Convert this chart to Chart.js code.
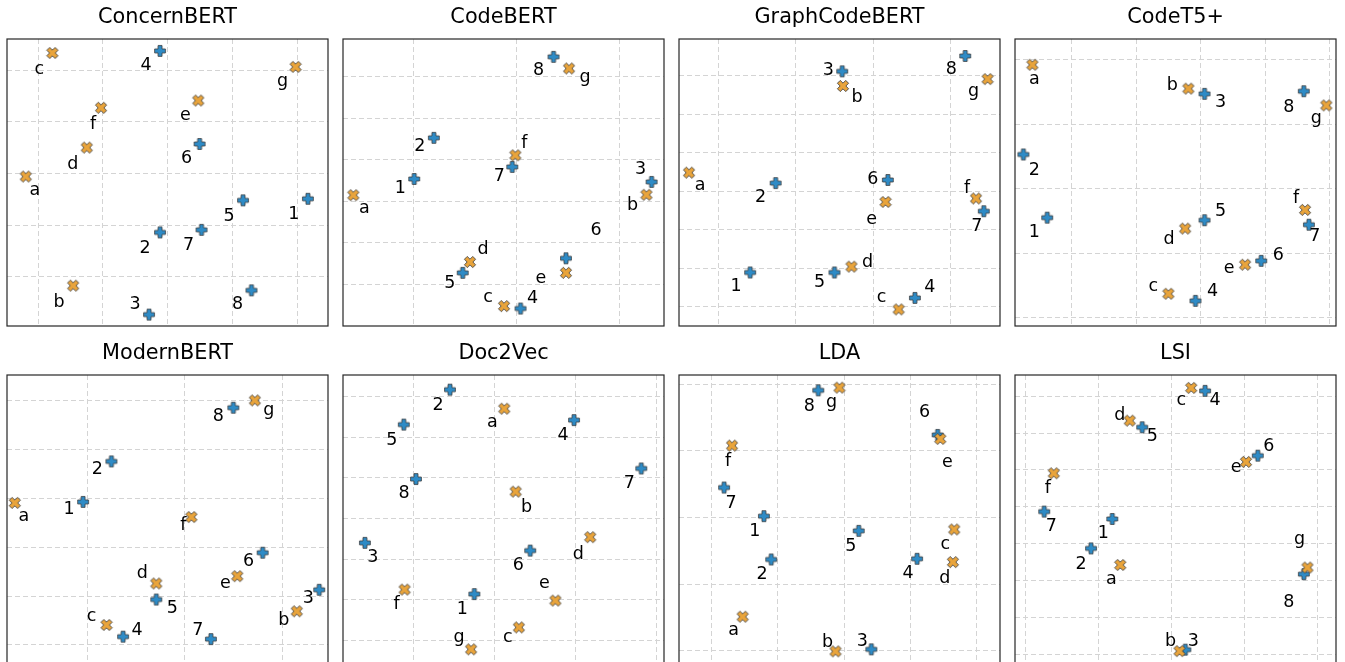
<!DOCTYPE html>
<html>
<head>
<meta charset="utf-8">
<script src="https://cdn.jsdelivr.net/npm/chart.js@4.4.1/dist/chart.umd.min.js"></script>
<style>
  body { margin: 0; background: #fff; width: 1345px; height: 662px; overflow: hidden; position: relative; }
  canvas { position: absolute; }
</style>
</head>
<body>
<script>
// modelos (un panel cada uno)
const modelos = ['ConcernBERT', 'CodeBERT', 'GraphCodeBERT', 'CodeT5+', 'ModernBERT', 'Doc2Vec', 'LDA', 'LSI'];
const etiquetasNum = ['1', '2', '3', '4', '5', '6', '7', '8'];
const etiquetasLetra = ['a', 'b', 'c', 'd', 'e', 'f', 'g'];

// puntos azules (1..8), por panel
const xNumeros = [
  [4.16, 1.88, 1.71, 1.88, 3.16, 2.49, 2.52, 3.29],
  [0.01, 0.20, 2.31, 1.04, 0.48, 1.48, 0.96, 1.36],
  [0.41, 0.74, 1.60, 2.54, 1.50, 2.19, 3.43, 3.19],
  [-0.38, -0.75, 2.06, 1.92, 2.06, 2.94, 3.68, 3.60],
  [-0.04, 0.25, 2.38, 0.37, 0.71, 1.80, 1.27, 1.50],
  [0.75, 0.45, -0.60, 1.98, -0.12, 1.44, 2.81, 0.03],
  [0.79, 0.90, 2.41, 3.10, 2.22, 3.41, 0.19, 1.61],
  [1.19, 0.90, 2.19, 2.46, 1.60, 3.18, 0.26, 3.81]
];
const yNumeros = [
  [1.51, 0.86, -0.73, 4.37, 1.48, 2.57, 0.91, -0.26],
  [2.54, 3.53, 2.47, -0.58, 0.28, 0.63, 2.83, 5.48],
  [0.89, 3.21, 6.11, 0.23, 0.89, 3.29, 2.48, 6.51],
  [1.55, 2.53, 3.47, 0.26, 1.51, 0.88, 1.44, 3.51],
  [2.93, 3.76, 1.13, 0.17, 0.93, 1.89, 0.12, 4.86],
  [1.14, 6.17, 2.40, 5.42, 5.31, 2.21, 4.23, 3.97],
  [2.02, 1.37, 0.02, 1.38, 1.80, 3.24, 2.45, 3.91],
  [3.67, 2.87, 0.12, 7.15, 6.16, 5.39, 3.87, 2.17]
];

// puntos naranjas (a..g), por panel
const xLetras = [
  [-0.19, 0.54, 0.22, 0.75, 2.47, 0.97, 3.97],
  [-0.58, 2.26, 0.88, 0.55, 1.48, 0.99, 1.51],
  [-0.38, 1.61, 2.33, 1.72, 2.16, 3.33, 3.48],
  [-0.61, 1.81, 1.50, 1.76, 2.69, 3.62, 3.95],
  [-0.74, 2.15, 0.20, 0.71, 1.54, 1.07, 1.72],
  [1.12, 1.26, 1.30, 2.18, 1.75, -0.11, 0.71],
  [0.47, 1.87, 3.66, 3.64, 3.45, 0.31, 1.93],
  [1.30, 2.11, 2.27, 1.43, 3.02, 0.39, 3.86]
];
const yLetras = [
  [1.94, -0.17, 4.33, 2.50, 3.41, 3.27, 4.06],
  [2.15, 2.16, -0.52, 0.54, 0.28, 3.11, 5.20],
  [3.48, 5.73, -0.07, 1.04, 2.72, 2.81, 5.91],
  [3.92, 3.55, 0.37, 1.38, 0.82, 1.67, 3.29],
  [2.91, 0.69, 0.41, 1.26, 1.41, 2.62, 5.01],
  [5.70, 3.66, 0.32, 2.54, 0.98, 1.25, -0.22],
  [0.51, -0.01, 1.82, 1.33, 3.18, 3.08, 3.95],
  [2.42, 0.08, 7.23, 6.34, 5.22, 4.91, 2.35]
];

// limites de los ejes y cantidad de lineas de grilla
const limitesX = [[-0.48, 4.47], [-0.68, 2.43], [-0.51, 3.64], [-0.88, 4.10], [-0.82, 2.47], [-0.87, 3.09], [-0.49, 4.35], [-0.14, 4.25]];
const limitesY = [[-0.95, 4.60], [-1.00, 5.91], [-0.50, 6.95], [-0.13, 4.32], [-0.39, 5.53], [-0.58, 6.53], [-0.20, 4.14], [-0.27, 7.58]];
const grillaX = [4, 2, 3, 4, 2, 3, 4, 4];
const grillaY = [4, 5, 6, 4, 5, 6, 4, 7];

// desplazamiento (px) de cada etiqueta respecto a su punto
const offNumeros = [
  [[-14, 14], [-15, 14], [-14, -12], [-14, 13], [-14, 14], [-13, 13], [-13, 14], [-14, 12]],
  [[-14, 8], [-14, 7], [-11, -14], [12, -12], [-13, 9], [30, -30], [-13, 8], [-15, 12]],
  [[-14, 12], [-15, 13], [-14, -3], [15, -12], [-15, 8], [-15, -2], [-7, 13], [-14, 12]],
  [[-13, 13], [11, 14], [16, 7], [17, -11], [16, -11], [17, -7], [6, 10], [-15, 14]],
  [[-14, 6], [-14, 6], [-11, 7], [14, -8], [16, 7], [-14, 7], [-13, -11], [-15, 7]],
  [[-12, 14], [-12, 14], [8, 13], [-11, 13], [-12, 14], [-12, 13], [-12, 13], [-12, 13]],
  [[-9, 13], [-9, 13], [-9, -10], [-9, 13], [-8, 14], [-13, -24], [7, 14], [-9, 14]],
  [[-9, 13], [-10, 14], [8, -10], [10, 8], [10, 7], [11, -11], [7, 13], [-15, 26]]
];
const offLetras = [
  [[9, 14], [-14, 15], [-13, 16], [-14, 15], [-13, 15], [-8, 15], [-13, 16]],
  [[11, 13], [-14, 9], [-16, -9], [13, -14], [-25, 5], [9, -14], [16, 11]],
  [[11, 13], [14, 10], [-17, -12], [16, -6], [-14, 17], [-9, -12], [-14, 14]],
  [[2, 15], [-16, -5], [-15, -7], [-16, 9], [-16, 4], [-9, -13], [-10, 15]],
  [[9, 13], [-13, 7], [-15, -9], [-14, -12], [-12, 7], [-8, 7], [14, 12]],
  [[-12, 14], [11, 14], [-11, 10], [-12, 15], [-11, -17], [-8, 13], [-12, -10]],
  [[-9, 14], [-8, -11], [-9, 15], [-8, 14], [7, 23], [-4, 14], [-8, 17]],
  [[-9, 14], [-9, -12], [-10, 12], [-10, -7], [-10, 5], [-6, 13], [-8, -26]]
];

const azul = '#2e8bc6';
const naranja = '#e9a43b';

// marcador relleno: cruz "+" o "x" (cruz girada)
function marcador(color, girado) {
  const c = document.createElement('canvas');
  c.width = 14; c.height = 14;
  const ctx = c.getContext('2d');
  ctx.translate(7, 7);
  if (girado) ctx.rotate(Math.PI / 4);
  const t = 2.0, r = girado ? 5.9 : 5.4;
  const pts = [[-t, -r], [t, -r], [t, -t], [r, -t], [r, t], [t, t], [t, r], [-t, r], [-t, t], [-r, t], [-r, -t], [-t, -t]];
  ctx.beginPath();
  pts.forEach((p, i) => i ? ctx.lineTo(p[0], p[1]) : ctx.moveTo(p[0], p[1]));
  ctx.closePath();
  ctx.fillStyle = color;
  ctx.fill();
  ctx.strokeStyle = '#3a3a3a';
  ctx.lineWidth = 0.8;
  ctx.stroke();
  return c;
}
const cruzAzul = marcador(azul, false);
const equisNaranja = marcador(naranja, true);

// cuanto bajar la linea base para centrar cada glifo
function bajada(txt) {
  if (txt === 'g') return 2.8;
  if ('ace'.includes(txt)) return 4.7;
  return 6.4;
}

const decorado = {
  id: 'decorado',
  afterDraw(chart) {
    const { ctx, chartArea: a } = chart;
    const k = chart.options.plugins.decorado;
    ctx.save();
    ctx.fillStyle = '#000';
    ctx.textAlign = 'center';
    ctx.textBaseline = 'alphabetic';
    ctx.font = '17.5px "DejaVu Sans"';
    chart.data.datasets.forEach((ds, d) => {
      const meta = chart.getDatasetMeta(d);
      meta.data.forEach((p, i) => {
        const txt = ds.etiquetas[i];
        const off = ds.offsets[i];
        ctx.fillText(txt, p.x + off[0], p.y + off[1] + bajada(txt));
      });
    });
    ctx.font = '20.8px "DejaVu Sans"';
    ctx.fillText(k.titulo, (a.left + a.right) / 2, a.top - 16.3);
    ctx.strokeStyle = '#262626';
    ctx.lineWidth = 1.2;
    ctx.strokeRect(a.left, a.top, a.right - a.left, a.bottom - a.top);
    ctx.restore();
  }
};

function eje(lim, n) {
  return {
    type: 'linear',
    min: lim[0],
    max: lim[1],
    ticks: { display: false },
    grid: { color: '#d4d4d4', lineWidth: 1, drawTicks: false },
    border: { display: false, dash: [5, 3] },
    afterBuildTicks: (s) => { s.ticks = Array.from({ length: n + 1 }, (_, v) => ({ value: v })); }
  };
}

modelos.forEach((nombre, i) => {
  const fila = Math.floor(i / 4), col = i % 4;
  const cv = document.createElement('canvas');
  cv.width = 325;
  cv.height = 332;
  cv.style.left = (5 + col * 336) + 'px';
  cv.style.top = (fila * 336) + 'px';
  document.body.appendChild(cv);

  new Chart(cv, {
    type: 'scatter',
    data: {
      datasets: [
        {
          data: xNumeros[i].map((x, j) => ({ x: x, y: yNumeros[i][j] })),
          etiquetas: etiquetasNum,
          offsets: offNumeros[i],
          pointStyle: cruzAzul,
          pointRadius: 6,
          order: 2,
          clip: false
        },
        {
          data: xLetras[i].map((x, j) => ({ x: x, y: yLetras[i][j] })),
          etiquetas: etiquetasLetra,
          offsets: offLetras[i],
          pointStyle: equisNaranja,
          pointRadius: 6,
          order: 1,
          clip: false
        }
      ]
    },
    options: {
      responsive: false,
      animation: false,
      events: [],
      // la fila de abajo queda cortada por el borde de la imagen
      layout: { autoPadding: false, padding: { top: 39, left: 2, right: 2, bottom: fila ? 4 : 6 } },
      scales: { x: eje(limitesX[i], grillaX[i]), y: eje(limitesY[i], grillaY[i]) },
      plugins: { legend: { display: false }, tooltip: { enabled: false }, decorado: { titulo: nombre } }
    },
    plugins: [decorado]
  });
});
</script>
</body>
</html>
